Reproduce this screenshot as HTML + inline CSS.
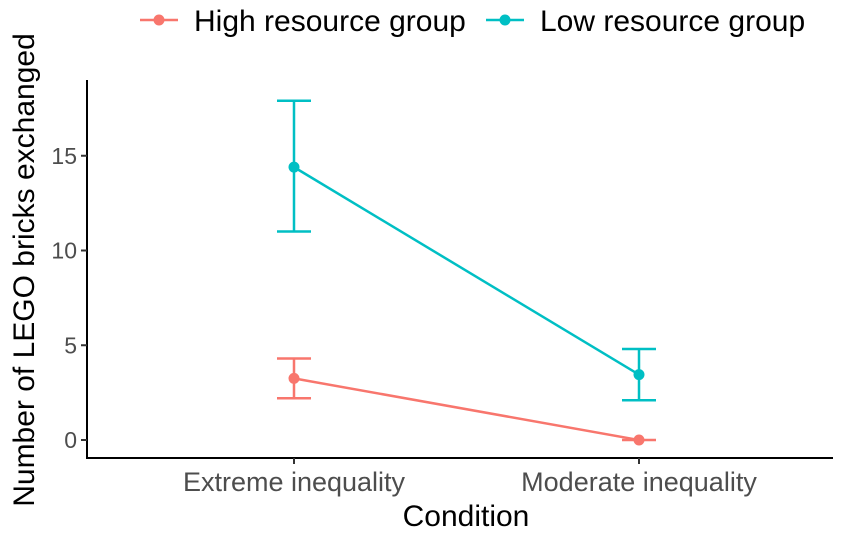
<!DOCTYPE html>
<html><head><meta charset="utf-8"><style>
body{margin:0;background:#fff;}
svg text{font-family:"Liberation Sans",sans-serif;}
</style></head><body>
<svg id="chart" width="853" height="532">
<g id="legend">
 <g>
  <line x1="140" y1="20" x2="178" y2="20" stroke="#F8766D" stroke-width="2.5"/>
  <circle cx="159" cy="20" r="5.5" fill="#F8766D"/>
  <text x="194" y="31" font-size="30" fill="#000">High resource group</text>
 </g>
 <g>
  <line x1="486" y1="20" x2="524" y2="20" stroke="#00BFC4" stroke-width="2.5"/>
  <circle cx="505" cy="20" r="5.5" fill="#00BFC4"/>
  <text x="540" y="31" font-size="30" fill="#000">Low resource group</text>
 </g>
</g>
<line x1="87" y1="80" x2="87" y2="459" stroke="#000" stroke-width="2"/>
<line x1="86" y1="458" x2="833" y2="458" stroke="#000" stroke-width="2"/>
<g id="yticks"></g><g id="xticks"></g><g id="series"></g>
<text x="466" y="526" font-size="30" text-anchor="middle">Condition</text>
<text transform="translate(34,270) rotate(-90)" font-size="30" text-anchor="middle">Number of LEGO bricks exchanged</text>
</svg>
<script>
const categories=["Extreme inequality","Moderate inequality"];
const yTicks=[0,5,10,15];
const seriesNames=["High resource group","Low resource group"];
const highMean=[3.25,0];
const highLow=[2.2,0];
const highHigh=[4.3,0];
const lowMean=[14.4,3.45];
const lowLow=[11,2.1];
const lowHigh=[17.9,4.8];
const colors=["#F8766D","#00BFC4"];
const NS="http://www.w3.org/2000/svg";
function y(v){return 440-v*18.95;}
function x(i){return 294+i*345;}
function mk(t,a,p){const e=document.createElementNS(NS,t);for(const k in a)e.setAttribute(k,a[k]);p.appendChild(e);return e;}
const yt=document.getElementById('yticks');
yTicks.forEach(v=>{
 const l=mk('line',{x1:81,x2:87,y1:y(v),y2:y(v),stroke:'#333','stroke-width':2},yt);
 
 
 const t=mk('text',{x:77,y:y(v)+8,'font-size':23,'text-anchor':'end',fill:'#4d4d4d'},yt);
 t.textContent=v;
 
 
});
const xt=document.getElementById('xticks');
categories.forEach((c,i)=>{
 const l=mk('line',{x1:x(i),x2:x(i),y1:458,y2:464,stroke:'#333','stroke-width':2},xt);
 
 
 const t=mk('text',{x:x(i),y:491,'font-size':27,'text-anchor':'middle',fill:'#4d4d4d'},xt);
 t.textContent=c;
 
 
});
const sg=document.getElementById('series');
[[highMean,highLow,highHigh],[lowMean,lowLow,lowHigh]].forEach((s,k)=>{
 const [m,lo,hi]=s,c=colors[k];
 const g=mk('g',{},sg);
 
 
 const pl=mk('polyline',{points:m.map((v,i)=>x(i)+','+y(v)).join(' '),fill:'none',stroke:c,'stroke-width':2.5},g);
 
 
 m.forEach((v,i)=>{
  const eb=mk('path',{d:`M${x(i)-17},${y(hi[i])}H${x(i)+17}M${x(i)},${y(hi[i])}V${y(lo[i])}M${x(i)-17},${y(lo[i])}H${x(i)+17}`,stroke:c,'stroke-width':2.5,fill:'none'},g);
  
  
  const p=mk('circle',{cx:x(i),cy:y(v),r:5.5,fill:c},g);
  
  
 });
});
</script>
</body></html>
